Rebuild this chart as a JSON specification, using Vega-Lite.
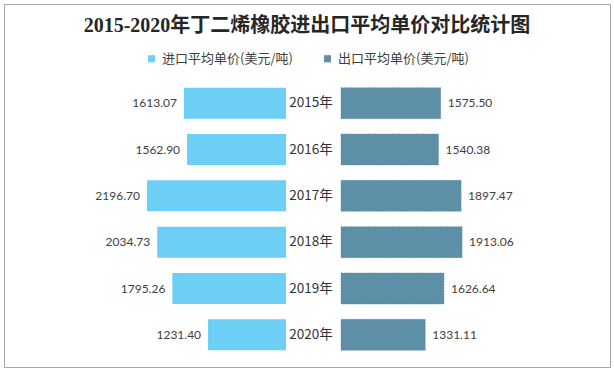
{
  "$schema": "https://vega.github.io/schema/vega-lite/v6.json",
  "width": 606,
  "height": 363,
  "autosize": {"type": "none"},
  "padding": 4,
  "title": {
    "text": "2015-2020年丁二烯橡胶进出口平均单价对比统计图",
    "offset": -32,
    "anchor": "middle",
    "font": "Liberation Serif, Noto Sans CJK SC",
    "fontSize": 20,
    "fontWeight": "bold",
    "color": "#262626"
  },
  "config": {
    "view": {"stroke": "#a6a6a6", "strokeWidth": 1}
  },
  "data": {
    "values": [
      {"year": "2015年", "type": "进口平均单价(美元/吨)", "value": 1613.07},
      {"year": "2016年", "type": "进口平均单价(美元/吨)", "value": 1562.90},
      {"year": "2017年", "type": "进口平均单价(美元/吨)", "value": 2196.70},
      {"year": "2018年", "type": "进口平均单价(美元/吨)", "value": 2034.73},
      {"year": "2019年", "type": "进口平均单价(美元/吨)", "value": 1795.26},
      {"year": "2020年", "type": "进口平均单价(美元/吨)", "value": 1231.40},
      {"year": "2015年", "type": "出口平均单价(美元/吨)", "value": 1575.50},
      {"year": "2016年", "type": "出口平均单价(美元/吨)", "value": 1540.38},
      {"year": "2017年", "type": "出口平均单价(美元/吨)", "value": 1897.47},
      {"year": "2018年", "type": "出口平均单价(美元/吨)", "value": 1913.06},
      {"year": "2019年", "type": "出口平均单价(美元/吨)", "value": 1626.64},
      {"year": "2020年", "type": "出口平均单价(美元/吨)", "value": 1331.11}
    ]
  },
  "encoding": {
    "y": {
      "field": "year",
      "type": "nominal",
      "sort": null,
      "axis": null,
      "scale": {"range": [76, 354], "paddingInner": 0.33, "paddingOuter": 0.165}
    }
  },
  "layer": [
    {
      "transform": [{"filter": {"field": "type", "equal": "进口平均单价(美元/吨)"}}],
      "encoding": {
        "x": {
          "field": "value",
          "type": "quantitative",
          "stack": null,
          "axis": null,
          "scale": {"domain": [0, 4455], "range": [282, 0], "nice": false, "zero": true}
        }
      },
      "layer": [
        {
          "mark": {"type": "bar"},
          "encoding": {
            "color": {
              "field": "type",
              "type": "nominal",
              "scale": {
                "domain": ["进口平均单价(美元/吨)", "出口平均单价(美元/吨)"],
                "range": ["#6DCFF6", "#5D8FA6"]
              },
              "legend": {
                "orient": "none",
                "legendX": 141,
                "legendY": 48,
                "direction": "horizontal",
                "title": null,
                "symbolType": "square",
                "symbolSize": 50,
                "symbolStrokeWidth": 0,
                "labelFont": "Noto Sans CJK SC",
                "labelFontSize": 13,
                "labelColor": "#404040",
                "labelOffset": 4,
                "columnPadding": 28
              }
            }
          }
        },
        {
          "mark": {"type": "text", "align": "right", "baseline": "middle", "dx": -7, "font": "Lato", "fontSize": 12, "color": "#404040"},
          "encoding": {"text": {"field": "value", "type": "quantitative", "format": ".2f"}}
        },
        {
          "mark": {"type": "text", "align": "center", "baseline": "middle", "dx": 4, "font": "Noto Sans CJK SC", "fontSize": 13.5, "color": "#333333"},
          "encoding": {"x": null, "text": {"field": "year", "type": "nominal"}}
        }
      ]
    },
    {
      "transform": [{"filter": {"field": "type", "equal": "出口平均单价(美元/吨)"}}],
      "encoding": {
        "x": {
          "field": "value",
          "type": "quantitative",
          "stack": null,
          "axis": null,
          "scale": {"domain": [0, 4300], "range": [337, 609.2], "nice": false, "zero": true}
        }
      },
      "layer": [
        {
          "mark": {"type": "bar", "stroke": "#55869D", "strokeWidth": 0.5, "strokeDash": [2, 1]},
          "encoding": {
            "color": {
              "field": "type",
              "type": "nominal",
              "scale": {
                "domain": ["进口平均单价(美元/吨)", "出口平均单价(美元/吨)"],
                "range": ["#6DCFF6", "#5D8FA6"]
              }
            }
          }
        },
        {
          "mark": {"type": "text", "align": "left", "baseline": "middle", "dx": 7, "font": "Lato", "fontSize": 12, "color": "#404040"},
          "encoding": {"text": {"field": "value", "type": "quantitative", "format": ".2f"}}
        }
      ]
    }
  ],
  "resolve": {"scale": {"x": "independent"}}
}
